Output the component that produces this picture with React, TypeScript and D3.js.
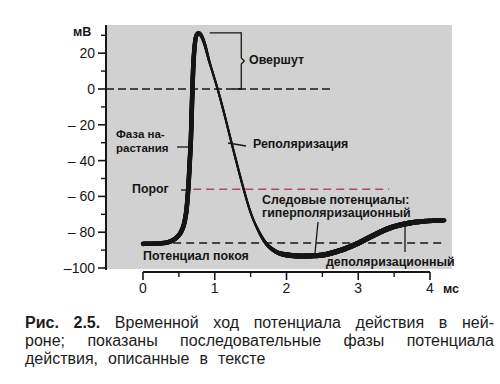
import React, { useEffect, useRef } from "react";
import * as d3 from "d3";

// ---- data ----
const timeMs = [0, 0.15, 0.3, 0.4, 0.48, 0.54, 0.58, 0.61, 0.63, 0.65, 0.67, 0.685, 0.7, 0.72, 0.745, 0.775, 0.81, 0.86, 0.92, 0.98, 1.04, 1.14, 1.24, 1.33, 1.41, 1.5, 1.6, 1.7, 1.8, 1.95, 2.2, 2.45, 2.7, 2.98, 3.2, 3.45, 3.7, 3.95, 4.2];
const potentialMv = [-86.5, -86.4, -86, -84.8, -82.5, -79, -74, -66, -56, -42, -25, -5, 12, 24, 30, 31.3, 30, 25, 16, 8, 0, -15, -31, -45, -57, -69, -78.5, -85.5, -89.5, -92.3, -93.3, -93, -90.8, -86.5, -82, -77.5, -75, -73.8, -73.4];

const yMajorTicks = [20, 0, -20, -40, -60, -80, -100];
const yMinorTicks = [30, 10, -10, -30, -50, -70, -90];
const yTickLabels = ["20", "0", "– 20", "– 40", "– 60", "– 80", "–100"];
const xMajorTicks = [0, 1, 2, 3, 4];
const xMinorTicks = [0.5, 1.5, 2.5, 3.5];
const xTickLabels = ["0", "1", "2", "3", "4"];

const zeroMv = 0;
const thresholdMv = -56;
const restMv = -86;
const peakMv = 31.3;

const yUnit = "мВ";
const xUnit = "мс";
const labelOvershoot = "Овершут";
const labelRising = ["Фаза на-", "растания"];
const labelRepol = "Реполяризация";
const labelThreshold = "Порог";
const labelTrace = ["Следовые потенциалы:", "гиперполяризационный"];
const labelRest = "Потенциал покоя";
const labelDepol = "деполяризационный";

const captionLine1 = ["Временной", "ход", "потенциала", "действия", "в", "ней-"];
const captionLine2 = ["роне;", "показаны", "последовательные", "фазы", "потенциала"];
const captionLine3 = ["действия,", "описанные", "в", "тексте"];
const captionBold = ["Рис.", "2.5."];

const FONT = "'Liberation Sans', Arial, Helvetica, sans-serif";
const INK = "#161616";

export default function App() {
  const ref = useRef<SVGSVGElement | null>(null);

  useEffect(() => {
    const svg = d3.select(ref.current!);
    svg.selectAll("*").remove();

    const x = d3.scaleLinear().domain([0, 4]).range([143, 430]);
    const y = d3.scaleLinear().domain([-100, 35.75]).range([268, 25]);
    const axisX = 106;

    // grey panel
    svg.append("rect").attr("x", axisX).attr("y", 25).attr("width", 452 - axisX).attr("height", 268 - 25 + 1)
      .attr("fill", "#d1d1d1");

    // y axis
    svg.append("line").attr("x1", axisX).attr("x2", axisX).attr("y1", 25).attr("y2", 270)
      .attr("stroke", INK).attr("stroke-width", 2);
    yMajorTicks.forEach((v, i) => {
      svg.append("line").attr("x1", axisX - 8).attr("x2", axisX).attr("y1", y(v)).attr("y2", y(v))
        .attr("stroke", INK).attr("stroke-width", 1.6);
      svg.append("text").attr("x", 95).attr("y", y(v)).attr("dy", "0.36em").attr("text-anchor", "end")
        .attr("font-family", FONT).attr("font-size", 14).attr("fill", INK).text(yTickLabels[i]);
    });
    yMinorTicks.forEach((v) => {
      svg.append("line").attr("x1", axisX - 5).attr("x2", axisX).attr("y1", y(v)).attr("y2", y(v))
        .attr("stroke", INK).attr("stroke-width", 1.4);
    });
    svg.append("text").attr("x", 73).attr("y", 36).attr("font-family", FONT).attr("font-size", 12.5)
      .attr("font-weight", "bold").attr("fill", INK).text(yUnit);

    // x axis
    const xAxisY = 272;
    svg.append("line").attr("x1", x(0)).attr("x2", x(4)).attr("y1", xAxisY).attr("y2", xAxisY)
      .attr("stroke", INK).attr("stroke-width", 2);
    xMajorTicks.forEach((v, i) => {
      svg.append("line").attr("x1", x(v)).attr("x2", x(v)).attr("y1", xAxisY).attr("y2", xAxisY + 8)
        .attr("stroke", INK).attr("stroke-width", 1.6);
      svg.append("text").attr("x", x(v)).attr("y", 293).attr("text-anchor", "middle")
        .attr("font-family", FONT).attr("font-size", 14).attr("fill", INK).text(xTickLabels[i]);
    });
    xMinorTicks.forEach((v) => {
      svg.append("line").attr("x1", x(v)).attr("x2", x(v)).attr("y1", xAxisY).attr("y2", xAxisY + 5)
        .attr("stroke", INK).attr("stroke-width", 1.4);
    });
    svg.append("text").attr("x", 443).attr("y", 293).attr("font-family", FONT).attr("font-size", 12.5)
      .attr("font-weight", "bold").attr("fill", INK).text(xUnit);

    // dashed reference lines
    svg.append("line").attr("x1", axisX).attr("x2", x(2.65)).attr("y1", y(zeroMv)).attr("y2", y(zeroMv))
      .attr("stroke", INK).attr("stroke-width", 1.6).attr("stroke-dasharray", "8 4");
    svg.append("line").attr("x1", x(0.7)).attr("x2", x(3.43)).attr("y1", y(thresholdMv)).attr("y2", y(thresholdMv))
      .attr("stroke", "#b04a64").attr("stroke-width", 1.6).attr("stroke-dasharray", "8 5");
    svg.append("line").attr("x1", x(0.42)).attr("x2", x(4.18)).attr("y1", y(restMv)).attr("y2", y(restMv))
      .attr("stroke", INK).attr("stroke-width", 1.6).attr("stroke-dasharray", "8 5");

    // overshoot brace
    const bx = x(1.37);
    const by0 = y(peakMv), by1 = y(zeroMv), bm = (by0 + by1) / 2;
    svg.append("path")
      .attr("d", `M${x(0.93)},${by0} H${bx} V${bm - 3} L${bx + 3},${bm} L${bx},${bm + 3} V${by1} H${bx - 8}`)
      .attr("fill", "none").attr("stroke", INK).attr("stroke-width", 1.3);

    // action potential curve with varying thickness
    const pts: [number, number][] = timeMs.map((t, i) => [t, potentialMv[i]]);
    const lineGen = d3.line<[number, number]>().x((d) => x(d[0])).y((d) => y(d[1])).curve(d3.curveMonotoneX);
    const tmp = svg.append("path").attr("d", lineGen(pts)!).attr("fill", "none");
    const node = tmp.node() as SVGPathElement;
    const L = node.getTotalLength();
    const N = 900;
    const samples: { x: number; y: number }[] = [];
    for (let i = 0; i <= N; i++) {
      const p = node.getPointAtLength((L * i) / N);
      samples.push({ x: p.x, y: p.y });
    }
    tmp.remove();
    const widthAt = (t: number) => {
      if (t < 0.7) return 4.6;
      if (t < 0.95) return 4.6 - ((t - 0.7) / 0.25) * 2.4;
      if (t < 1.55) return 2.2;
      if (t < 2.0) return 2.2 + ((t - 1.55) / 0.45) * 3.0;
      if (t < 3.7) return 5.2;
      return 5.2 - ((t - 3.7) / 0.5) * 0.8;
    };
    const g = svg.append("g");
    for (let i = 0; i < N; i++) {
      const a = samples[i], b = samples[i + 1];
      const t = x.invert((a.x + b.x) / 2);
      g.append("line").attr("x1", a.x).attr("y1", a.y).attr("x2", b.x).attr("y2", b.y)
        .attr("stroke", INK).attr("stroke-width", widthAt(t)).attr("stroke-linecap", "round");
    }

    // leader lines
    const leader = (x1: number, y1: number, x2: number, y2: number) =>
      svg.append("line").attr("x1", x1).attr("y1", y1).attr("x2", x2).attr("y2", y2)
        .attr("stroke", INK).attr("stroke-width", 1.3);
    leader(177, 147, 188, 147);
    leader(228, 143, 246, 146);
    leader(181, 190, 187, 190);
    leader(318, 222, 315, 253);
    leader(405, 224, 405, 252);

    // annotation labels
    const label = (tx: number, ty: number, s: string, size = 12.4) =>
      svg.append("text").attr("x", tx).attr("y", ty).attr("font-family", FONT).attr("font-size", size)
        .attr("font-weight", "bold").attr("fill", INK).text(s);
    label(249, 64, labelOvershoot);
    label(116, 138, labelRising[0], 11.5);
    label(116, 151.5, labelRising[1], 11.5);
    label(253, 148, labelRepol);
    label(132, 193, labelThreshold);
    label(262, 204, labelTrace[0]);
    label(262, 216.5, labelTrace[1]);
    label(143, 260, labelRest);
    label(326, 266, labelDepol);

    // caption
    const capFont = 16;
    const left = 25, right = 494;
    const placeLine = (words: string[], baseline: number, bold: boolean[], justify: boolean) => {
      const nodes = words.map((w, i) =>
        svg.append("text").attr("y", baseline).attr("font-family", FONT).attr("font-size", capFont)
          .attr("font-weight", bold[i] ? "bold" : "normal").attr("fill", "#1c1c1c").text(w)
      );
      const widths = nodes.map((n) => (n.node() as SVGTextElement).getComputedTextLength());
      const total = d3.sum(widths);
      const gap = justify ? (right - left - total) / (words.length - 1) : 10;
      let cx = left;
      nodes.forEach((n, i) => {
        n.attr("x", cx);
        cx += widths[i] + gap;
      });
    };
    const l1 = [...captionBold, ...captionLine1];
    placeLine(l1, 328, l1.map((_, i) => i < captionBold.length), true);
    placeLine(captionLine2, 346, captionLine2.map(() => false), true);
    placeLine(captionLine3, 364, captionLine3.map(() => false), false);
  }, []);

  return (
    <svg
      ref={ref}
      width={500}
      height={384}
      style={{ position: "absolute", left: 0, top: 0, background: "#ffffff" }}
    />
  );
}
